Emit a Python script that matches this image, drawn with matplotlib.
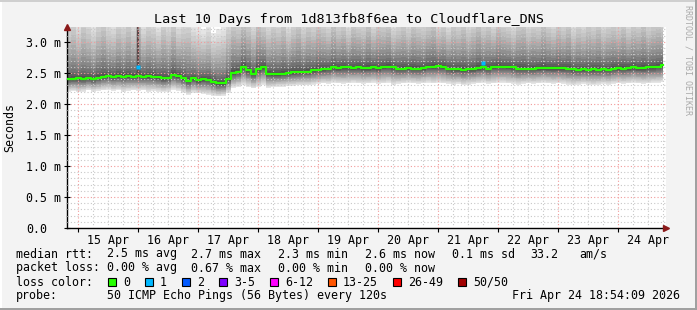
import numpy as np
import matplotlib
matplotlib.use('Agg')
import matplotlib.pyplot as plt
from matplotlib.patches import Rectangle
from matplotlib.ticker import MultipleLocator, FuncFormatter

plt.rcParams['font.family'] = ['DejaVu Sans Mono']

# hours since 15 Apr 00:00, one sample every 2 hours
hours = np.arange(-4, 236, 2)

median_ms = [
    2.40, 2.40, 2.41, 2.40, 2.41, 2.40, 2.42, 2.44, 2.45, 2.44, 2.45, 2.44,
    2.45, 2.44, 2.45, 2.44, 2.45, 2.44, 2.43, 2.41, 2.42, 2.47, 2.45, 2.42,
    2.37, 2.41, 2.38, 2.40, 2.39, 2.36, 2.33, 2.33, 2.40, 2.50, 2.52, 2.60,
    2.55, 2.49, 2.57, 2.60, 2.49, 2.48, 2.48, 2.49, 2.50, 2.51, 2.51, 2.52,
    2.52, 2.54, 2.55, 2.56, 2.57, 2.59, 2.58, 2.59, 2.59, 2.58, 2.59, 2.58,
    2.58, 2.59, 2.58, 2.60, 2.60, 2.59, 2.57, 2.57, 2.58, 2.57, 2.57, 2.58,
    2.60, 2.60, 2.61, 2.60, 2.57, 2.56, 2.56, 2.55, 2.56, 2.56, 2.58, 2.59,
    2.57, 2.60, 2.60, 2.60, 2.60, 2.59, 2.57, 2.57, 2.57, 2.57, 2.58, 2.58,
    2.58, 2.58, 2.58, 2.58, 2.57, 2.56, 2.55, 2.56, 2.55, 2.56, 2.55, 2.56,
    2.55, 2.57, 2.58, 2.57, 2.58, 2.59, 2.58, 2.58, 2.59, 2.59, 2.60, 2.62,
]

smoke_lo = [
    2.20, 2.21, 2.19, 2.20, 2.22, 2.20, 2.21, 2.22, 2.23, 2.21, 2.22, 2.20,
    2.21, 2.22, 2.21, 2.22, 2.20, 2.21, 2.20, 2.19, 2.20, 2.23, 2.21, 2.18,
    2.15, 2.18, 2.17, 2.16, 2.15, 2.13, 2.12, 2.13, 2.18, 2.26, 2.28, 2.30,
    2.27, 2.25, 2.28, 2.30, 2.26, 2.27, 2.28, 2.28, 2.29, 2.29, 2.30, 2.30,
    2.30, 2.31, 2.32, 2.33, 2.32, 2.34, 2.33, 2.32, 2.33, 2.34, 2.33, 2.32,
    2.33, 2.34, 2.32, 2.33, 2.34, 2.30, 2.32, 2.33, 2.34, 2.33, 2.32, 2.33,
    2.34, 2.33, 2.34, 2.33, 2.32, 2.31, 2.32, 2.30, 2.31, 2.32, 2.33, 2.34,
    2.32, 2.33, 2.34, 2.34, 2.33, 2.32, 2.31, 2.32, 2.33, 2.32, 2.33, 2.34,
    2.33, 2.32, 2.33, 2.32, 2.31, 2.30, 2.31, 2.32, 2.31, 2.30, 2.31, 2.32,
    2.31, 2.32, 2.33, 2.32, 2.33, 2.34, 2.33, 2.32, 2.33, 2.34, 2.34, 2.35,
]

smoke_hi = [
    3.40, 3.55, 3.35, 3.60, 3.45, 3.30, 3.50, 3.65, 3.40, 3.35, 3.55, 3.45,
    3.60, 3.40, 3.70, 3.35, 3.50, 3.45, 3.30, 3.55, 3.40, 3.60, 3.35, 3.45,
    3.50, 3.30, 3.25, 3.20, 3.30, 3.15, 3.20, 3.25, 3.45, 3.60, 3.50, 3.70,
    3.55, 3.40, 3.65, 3.50, 3.40, 3.55, 3.45, 3.60, 3.35, 3.50, 3.65, 3.40,
    3.55, 3.45, 3.60, 3.50, 3.40, 3.65, 3.45, 3.55, 3.35, 3.60, 3.50, 3.45,
    3.65, 3.40, 3.55, 3.50, 3.60, 3.35, 3.45, 3.55, 3.40, 3.60, 3.50, 3.45,
    3.55, 3.65, 3.40, 3.50, 3.35, 3.55, 3.45, 3.60, 3.40, 3.50, 3.65, 3.45,
    3.55, 3.40, 3.60, 3.50, 3.45, 3.35, 3.55, 3.60, 3.40, 3.50, 3.45, 3.65,
    3.50, 3.40, 3.55, 3.45, 3.60, 3.35, 3.50, 3.40, 3.55, 3.45, 3.60, 3.40,
    3.50, 3.55, 3.45, 3.60, 3.40, 3.55, 3.50, 3.65, 3.45, 3.55, 3.60, 3.50,
]

# single-sample events
spike_hours = [24]
spike_base = [2.50]
loss1_hours = [24, 162]
loss1_vals = [2.60, 2.66]

day_labels = ['15 Apr', '16 Apr', '17 Apr', '18 Apr', '19 Apr',
              '20 Apr', '21 Apr', '22 Apr', '23 Apr', '24 Apr']

loss_labels = ['0', '1', '2', '3-5', '6-12', '13-25', '26-49', '50/50']
loss_colors = ['#26ff00', '#00b8ff', '#0059ff', '#7e00ff', '#ff00ff',
               '#ff5500', '#ff0000', '#a10000']

rtt_stats = ['2.5 ms avg', '2.7 ms max', '2.3 ms min', '2.6 ms now', '0.1 ms sd', '33.2', 'am/s']
loss_stats = ['0.00 % avg', '0.67 % max', '0.00 % min', '0.00 % now']

W, H = 697, 310
fig = plt.figure(figsize=(W / 100, H / 100), dpi=100, facecolor='#f3f3f3')
ax = fig.add_axes([67 / W, 82 / H, (666 - 67) / W, (228 - 27) / H])
ax.set_facecolor('white')

med = np.array(median_ms)
lo = np.array(smoke_lo)
hi = np.array(smoke_hi)

# smoke: layered bands, light outside, dark near the median
K = 18
for k in range(K, 0, -1):
    f = k / K
    low = med - f * (med - lo)
    up = med + f ** 1.5 * (hi - med)
    g = 0.2 + 0.7 * f ** 0.8
    ax.fill_between(hours, low, up, step='mid', color=(g, g, g), lw=0, zorder=1)

ax.vlines(spike_hours, spike_base, 3.4, color='#5a4848', lw=1.6, zorder=2)

ax.set_xlim(-4.4, 235.2)
ax.set_ylim(0, 3.24)

ax.xaxis.set_major_locator(MultipleLocator(24))
ax.xaxis.set_minor_locator(MultipleLocator(6))
ax.yaxis.set_major_locator(MultipleLocator(0.5))
ax.yaxis.set_minor_locator(MultipleLocator(0.1))

ax.grid(which='major', color='#f29a9a', ls=(0, (1, 2)), lw=0.8, zorder=3)
ax.grid(which='minor', color='#c8c8c8', ls=(0, (1, 2)), lw=0.8, zorder=3)
ax.set_axisbelow(False)

ax.step(hours, med, where='mid', color=loss_colors[0], lw=1.6, zorder=5)
ax.plot(loss1_hours, loss1_vals, 's', ms=2.5, color=loss_colors[1], mec='none', zorder=6)

ax.xaxis.set_major_formatter(FuncFormatter(lambda v, p: ''))
ax.xaxis.set_minor_formatter(FuncFormatter(
    lambda v, p: day_labels[int(v // 24)] if v % 24 == 12 and 0 <= v // 24 < len(day_labels) else ''))
ax.tick_params(axis='x', which='major', length=3, width=0.8, color='black', direction='out')
ax.tick_params(axis='x', which='minor', length=0, pad=4, labelsize=8.4)

ax.yaxis.set_major_formatter(FuncFormatter(lambda v, p: '%.1f m' % v if v > 0 else '0.0'))
ax.tick_params(axis='y', which='major', length=4, width=0.8, direction='inout', pad=27.4, labelsize=8.4)
ax.tick_params(axis='y', which='minor', length=2, width=0.6, color='#888888', direction='inout')
for lab in ax.get_yticklabels():
    lab.set_ha('left')

for s in ['top', 'right']:
    ax.spines[s].set_visible(False)
for s in ['left', 'bottom']:
    ax.spines[s].set_linewidth(1.0)

# axis arrows
ax.plot([0], [1.0], marker='^', ms=5, color='#8b1a1a', transform=ax.transAxes, clip_on=False, zorder=7)
ax.plot([1.0], [0], marker='>', ms=5, color='#8b1a1a', transform=ax.transAxes, clip_on=False, zorder=7)

fig.text(0.5, 1 - 19 / H, 'Last 10 Days from 1d813fb8f6ea to Cloudflare_DNS',
         ha='center', va='center', fontsize=9.7)
fig.text(10 / W, 1 - 128 / H, 'Seconds', rotation=90, ha='center', va='center', fontsize=8.4)
fig.text(688 / W, 1 - 60 / H, 'RRDTOOL / TOBI OETIKER', rotation=270,
         ha='center', va='center', fontsize=6, color='#aaaaaa')

fs = 8.4
def ftxt(x, y, s, **kw):
    fig.text(x / W, 1 - y / H, s, va='center', fontsize=fs, **kw)

ftxt(16, 254, 'median rtt:')
for x, s in zip([107, 190.7, 278, 365, 451.7, 530, 579.3], rtt_stats):
    ftxt(x, 254, s)
ftxt(16, 268, 'packet loss:')
for x, s in zip([107, 190.7, 278, 365], loss_stats):
    ftxt(x, 268, s)
ftxt(16, 282, 'loss color:')
sx = 108
for lab, col in zip(loss_labels, loss_colors):
    fig.add_artist(Rectangle((sx / W, 1 - 286 / H), 8 / W, 8 / H, facecolor=col,
                             edgecolor='black', lw=0.8, transform=fig.transFigure))
    ftxt(sx + 15, 282, lab)
    sx += 37 + 7 * (len(lab) - 1)
ftxt(16, 296, 'probe:')
ftxt(107, 296, '50 ICMP Echo Pings (56 Bytes) every 120s')
ftxt(680, 296, 'Fri Apr 24 18:54:09 2026', ha='right')

# 3d-ish frame
fig.add_artist(Rectangle((0, 0), 2 / W, 1, facecolor='#ffffff', lw=0, transform=fig.transFigure))
fig.add_artist(Rectangle((0, 1 - 2 / H), 1, 2 / H, facecolor='#cfcfcf', lw=0, transform=fig.transFigure))
fig.add_artist(Rectangle((1 - 2 / W, 0), 2 / W, 1, facecolor='#a0a0a0', lw=0, transform=fig.transFigure))
fig.add_artist(Rectangle((0, 0), 1, 2 / H, facecolor='#a0a0a0', lw=0, transform=fig.transFigure))

fig.savefig('out.png', dpi=100, facecolor=fig.get_facecolor())
